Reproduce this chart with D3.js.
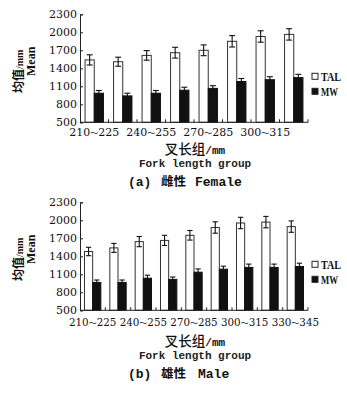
<!DOCTYPE html>
<html lang="zh">
<head>
<meta charset="UTF-8">
<title>Fork length group</title>
<script src="https://d3js.org/d3.v7.min.js"></script>
<style>
  body { margin: 0; background: #fff; }
  svg { display: block; }
</style>
</head>
<body>
<div id="chart"></div>
<script>
// Data
const femaleGroups = ["210～225", "225～240", "240～255", "255～270", "270～285", "285～300", "300～315", "315～330"];
const femaleTAL    = [1540, 1510, 1615, 1660, 1700, 1850, 1930, 1965];
const femaleTALErr = [85, 75, 80, 90, 90, 95, 95, 95];
const femaleMW     = [985, 940, 985, 1035, 1065, 1180, 1210, 1245];
const femaleMWErr  = [45, 45, 45, 50, 45, 50, 50, 55];

const maleGroups = ["210～225", "225～240", "240～255", "255～270", "270～285", "285～300", "300～315", "315～330", "330～345"];
const maleTAL    = [1480, 1540, 1645, 1665, 1750, 1880, 1955, 1970, 1895];
const maleTALErr = [70, 75, 85, 85, 80, 95, 95, 95, 95];
const maleMW     = [965, 965, 1035, 1015, 1135, 1185, 1215, 1215, 1230];
const maleMWErr  = [40, 40, 50, 40, 55, 50, 55, 55, 55];

const yTicks = [500, 800, 1100, 1400, 1700, 2000, 2300];
const seriesNames = ["TAL", "MW"];

const W = 347, H = 393;
const serif = "'DejaVu Serif', 'Noto Sans CJK SC', serif";
const lserif = "'Liberation Serif', serif";
const mono = "'Liberation Mono', 'Noto Sans CJK SC', monospace";
const cjk = "'Noto Sans CJK SC', sans-serif";

const svg = d3.select("#chart").append("svg")
  .attr("width", W).attr("height", H)
  .style("background", "#fff");

function drawPanel(p) {
  const g = svg.append("g");
  const x = d3.scaleBand().domain(p.groups).range([80, 308]);
  const xs = d3.scaleBand().domain(seriesNames).range([0, x.bandwidth()]).paddingOuter(0.55);
  const y = d3.scaleLinear().domain([500, 2300]).range([p.top + 108, p.top]);
  const base = y(500);

  // y axis, ticks pointing inward
  const yAxis = g.append("g")
    .attr("transform", "translate(80,0)")
    .call(d3.axisLeft(y).tickValues(yTicks).tickSize(-3).tickPadding(3).tickFormat(d3.format("d")));
  yAxis.select(".domain").attr("stroke", "#222");
  yAxis.selectAll(".tick line").attr("stroke", "#222");
  yAxis.selectAll("text")
    .attr("font-family", serif).attr("font-size", 11).attr("fill", "#111");

  const rows = p.groups.map((d, i) => ({
    group: d, i,
    vals: [
      { key: "TAL", v: p.tal[i], e: p.talErr[i] },
      { key: "MW", v: p.mw[i], e: p.mwErr[i] }
    ]
  }));

  const grp = g.selectAll(".grp").data(rows).enter().append("g")
    .attr("transform", d => `translate(${x(d.group)},0)`);

  grp.selectAll("rect").data(d => d.vals).enter().append("rect")
    .attr("x", d => xs(d.key))
    .attr("width", xs.bandwidth())
    .attr("y", d => y(d.v))
    .attr("height", d => base - y(d.v))
    .attr("fill", d => d.key === "TAL" ? "#fff" : "#111")
    .attr("stroke", d => d.key === "TAL" ? "#333" : "#111")
    .attr("stroke-width", 1);

  // error bars
  const cap = xs.bandwidth() * 0.65;
  const eb = grp.selectAll(".eb").data(d => d.vals).enter().append("g")
    .attr("stroke", "#111").attr("stroke-width", 1.1);
  eb.append("line")
    .attr("x1", d => xs(d.key) + xs.bandwidth() / 2)
    .attr("x2", d => xs(d.key) + xs.bandwidth() / 2)
    .attr("y1", d => y(d.v - d.e)).attr("y2", d => y(d.v + d.e));
  eb.append("line")
    .attr("x1", d => xs(d.key) + (xs.bandwidth() - cap) / 2)
    .attr("x2", d => xs(d.key) + (xs.bandwidth() + cap) / 2)
    .attr("y1", d => y(d.v + d.e)).attr("y2", d => y(d.v + d.e));
  eb.append("line")
    .attr("x1", d => xs(d.key) + (xs.bandwidth() - cap) / 2)
    .attr("x2", d => xs(d.key) + (xs.bandwidth() + cap) / 2)
    .attr("y1", d => y(d.v - d.e)).attr("y2", d => y(d.v - d.e));

  // x axis line and ticks on group boundaries
  g.append("line")
    .attr("x1", 80).attr("x2", x.range()[1])
    .attr("y1", base).attr("y2", base)
    .attr("stroke", "#222");
  g.selectAll(".xt").data(p.groups.slice(1)).enter().append("line")
    .attr("x1", d => x(d)).attr("x2", d => x(d))
    .attr("y1", base).attr("y2", base - 3)
    .attr("stroke", "#222");
  g.append("line")
    .attr("x1", x.range()[1]).attr("x2", x.range()[1])
    .attr("y1", base).attr("y2", base - 3)
    .attr("stroke", "#222");

  // x tick labels, every other group
  const xl = g.selectAll(".xl").data(p.groups.filter((d, i) => i % 2 === 0)).enter().append("text")
    .attr("x", d => x(d) + x.bandwidth() / 2)
    .attr("y", base + 13.8 + p.extra * 0.4)
    .attr("text-anchor", "middle")
    .attr("font-family", serif).attr("font-size", p.tickFont).attr("fill", "#111");
  xl.append("tspan").text(d => d.split("～")[0]);
  xl.append("tspan").attr("font-family", cjk).attr("font-size", 8).text("～");
  xl.append("tspan").text(d => d.split("～")[1]);

  // y title
  const yt = g.append("text")
    .attr("transform", `translate(23,${p.top + 57}) rotate(-90)`)
    .attr("text-anchor", "middle")
    .attr("font-family", cjk).attr("font-size", 12).attr("font-weight", "bold").attr("fill", "#111");
  yt.append("tspan").text("均值");
  yt.append("tspan").attr("font-family", lserif).attr("font-size", 10).text("/mm");
  g.append("text")
    .attr("transform", `translate(35,${p.top + 47}) rotate(-90)`)
    .attr("text-anchor", "middle")
    .attr("font-family", lserif).attr("font-size", 12).attr("font-weight", "bold").attr("fill", "#111")
    .text("Mean");

  // x titles
  const xt = g.append("text")
    .attr("x", 195).attr("y", base + 31.5 + p.extra)
    .attr("text-anchor", "middle")
    .attr("fill", "#111");
  xt.append("tspan").attr("font-family", cjk).attr("font-size", 13.5).attr("font-weight", 500).text("叉长组");
  xt.append("tspan").attr("font-family", mono).attr("font-size", 11).attr("font-weight", "bold").text("/mm");
  g.append("text")
    .attr("x", 195).attr("y", base + 44.5 + p.extra)
    .attr("text-anchor", "middle")
    .attr("font-family", mono).attr("font-size", 11).attr("font-weight", "bold").attr("fill", "#222")
    .text("Fork length group");

  const cap2 = g.append("text").attr("y", base + 64 + p.extra).attr("fill", "#111");
  cap2.append("tspan").attr("x", 128).attr("font-family", mono).attr("font-size", 13).attr("font-weight", "bold").text(p.tag);
  cap2.append("tspan").attr("x", 161).attr("font-family", cjk).attr("font-size", 12.5).attr("font-weight", "bold").text(p.cn);
  cap2.append("tspan").attr("x", p.enX).attr("font-family", mono).attr("font-size", 13).attr("font-weight", "bold").text(p.en);

  // legend
  const lg = g.selectAll(".lg").data(seriesNames).enter().append("g")
    .attr("transform", (d, i) => `translate(312,${p.top + 62 + i * 15})`);
  lg.append("rect")
    .attr("x", 0).attr("y", -3).attr("width", 6).attr("height", 6)
    .attr("fill", d => d === "TAL" ? "#fff" : "#111")
    .attr("stroke", "#222").attr("stroke-width", 1);
  lg.append("text")
    .attr("x", 9).attr("y", 4.5)
    .attr("font-family", lserif).attr("font-size", 13).attr("font-weight", "bold").attr("fill", "#111")
    .attr("textLength", d => d === "TAL" ? 20 : 17).attr("lengthAdjust", "spacingAndGlyphs")
    .text(d => d);
}

drawPanel({
  groups: femaleGroups, tal: femaleTAL, talErr: femaleTALErr, mw: femaleMW, mwErr: femaleMWErr,
  top: 14.3, extra: 0, tickFont: 11, tag: "(a)", cn: "雌性", en: "Female", enX: 195
});
drawPanel({
  groups: maleGroups, tal: maleTAL, talErr: maleTALErr, mw: maleMW, mwErr: maleMWErr,
  top: 202.3, extra: 4, tickFont: 10.3, tag: "(b)", cn: "雄性", en: "Male", enX: 198
});
</script>
</body>
</html>
